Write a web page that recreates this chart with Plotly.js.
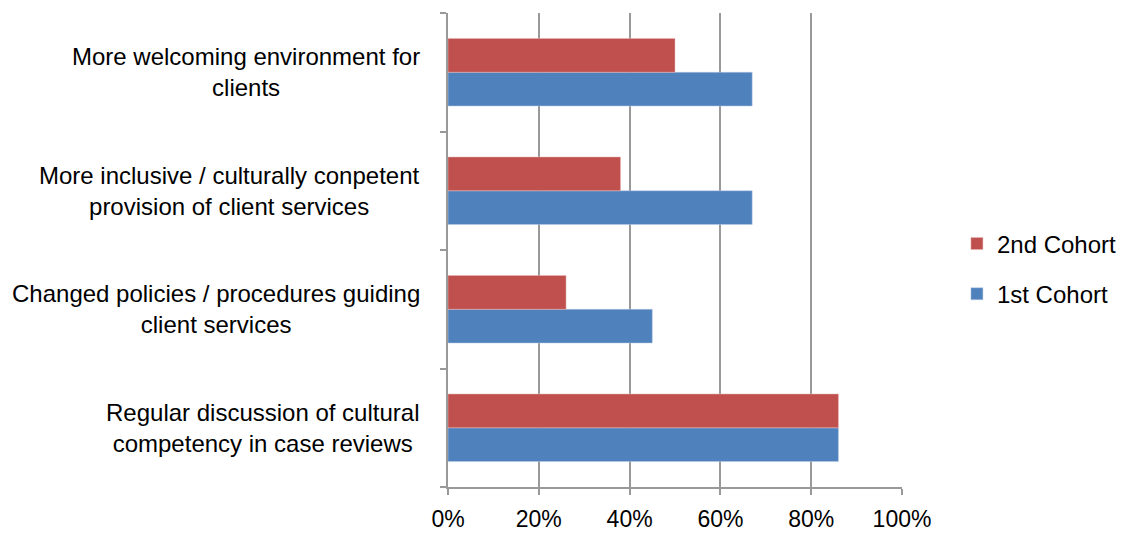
<!DOCTYPE html>
<html>
<head>
<meta charset="utf-8">
<script src="https://cdn.plot.ly/plotly-3.0.1.min.js"></script>
<style>html,body{margin:0;padding:0;background:#fff;}#chart{width:1122px;height:534px;}</style>
</head>
<body>
<div id="chart"></div>
<script>
var categories = [
  "Regular discussion of cultural<br>competency in case reviews",
  "Changed policies / procedures guiding<br>client services",
  "More inclusive / culturally conpetent<br>provision of client services",
  "More welcoming environment for<br>clients"
];
var cohort1 = [0.86, 0.45, 0.67, 0.67];
var cohort2 = [0.86, 0.26, 0.38, 0.50];
var seriesNames = ["1st Cohort", "2nd Cohort"];
var tickVals = [0, 0.2, 0.4, 0.6, 0.8, 1.0];
var tickText = ["0%", "20%", "40%", "60%", "80%", "100%"];

var FONT = "Liberation Sans, Arial, sans-serif";
var GRID = "#999999";
var traces = [
  {type: "bar", orientation: "h", name: seriesNames[0], y: categories, x: cohort1, legendrank: 2,
   marker: {color: "#4F81BD", line: {color: "#B9CDE5", width: 0.5}}, legendgroup: "a", hoverinfo: "x+y"},
  {type: "bar", orientation: "h", name: seriesNames[1], y: categories, x: cohort2, legendrank: 1,
   marker: {color: "#C0504D", line: {color: "#E6B9B8", width: 0.5}}, legendgroup: "b", hoverinfo: "x+y"}
];

var annotations = categories.map(function(c){
  return {xref: "paper", yref: "y", x: 0, xshift: -26, y: c, xanchor: "right", yanchor: "middle",
    text: c, align: "center", showarrow: false, font: {family: FONT, size: 24, color: "#000"}};
});

var layout = {
  width: 1122, height: 534,
  margin: {l: 448, r: 220, t: 13, b: 47, pad: 0, autoexpand: false},
  paper_bgcolor: "#fff", plot_bgcolor: "#fff",
  font: {family: FONT, size: 23, color: "#000"},
  barmode: "group", bargap: 0.43, bargroupgap: 0,
  xaxis: {range: [0, 1], tickvals: tickVals, ticktext: tickText, showgrid: true, gridcolor: GRID, gridwidth: 2,
    showline: true, linecolor: GRID, linewidth: 2, ticks: "outside", ticklen: 6, tickcolor: GRID, tickwidth: 2,
    ticklabelstandoff: 4,
    zeroline: false, tickfont: {family: FONT, size: 23, color: "#000"}, fixedrange: true},
  yaxis: {type: "category", showticklabels: false, showline: true, linecolor: GRID, linewidth: 2,
    ticks: "outside", ticklen: 6, tickcolor: GRID, tickwidth: 2, tickson: "boundaries", showgrid: false, zeroline: false, fixedrange: true},
  showlegend: true,
  legend: {x: 1.121, y: 0.46, xanchor: "left", yanchor: "middle", traceorder: "grouped", tracegroupgap: 16,
    font: {family: FONT, size: 24, color: "#000"}, bgcolor: "rgba(0,0,0,0)"},
  annotations: annotations
};
Plotly.newPlot("chart", traces, layout, {displayModeBar: false, staticPlot: true});
</script>
</body>
</html>
